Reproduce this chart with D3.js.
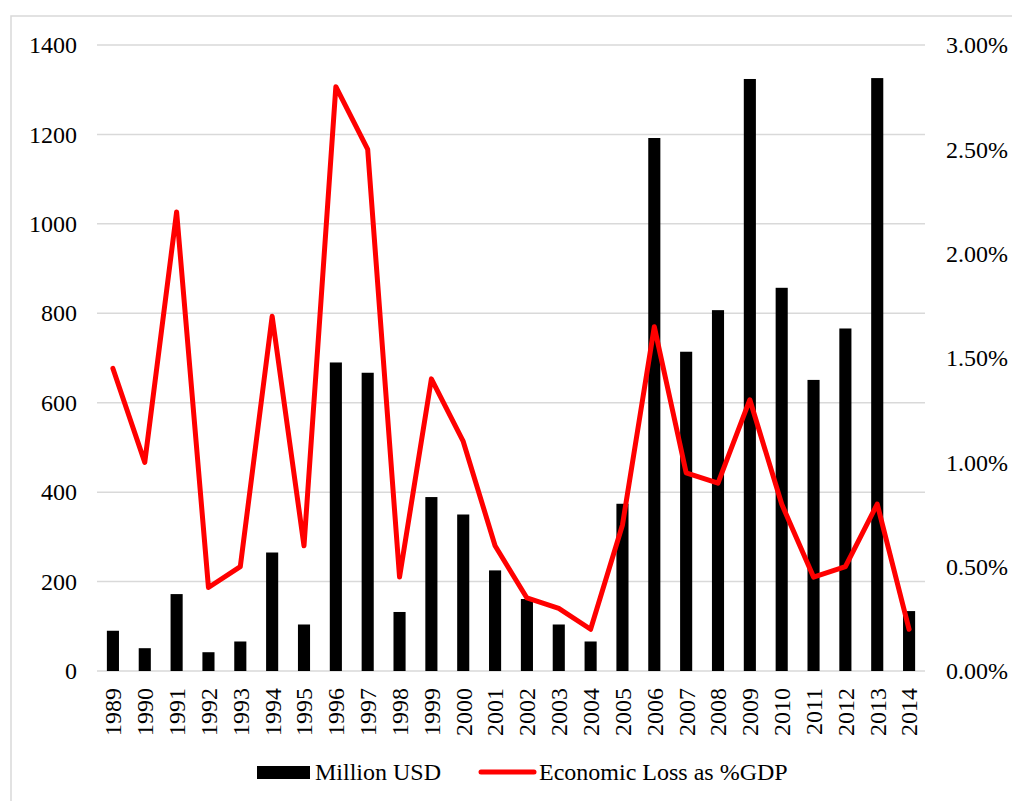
<!DOCTYPE html>
<html>
<head>
<meta charset="utf-8">
<script src="https://cdn.jsdelivr.net/npm/d3@7"></script>
<style>
  body { margin: 0; background: #fff; }
</style>
</head>
<body>
<div id="chart"></div>
<script>
// data
var years = ["1989","1990","1991","1992","1993","1994","1995","1996","1997","1998","1999","2000","2001",
             "2002","2003","2004","2005","2006","2007","2008","2009","2010","2011","2012","2013","2014"];
var millionUSD = [90, 51, 172, 42, 66, 265, 104, 690, 667, 132, 389, 350, 225,
                  161, 104, 66, 374, 1192, 714, 807, 1324, 857, 651, 766, 1326, 134];
var lossPctGDP = [1.45, 1.00, 2.20, 0.40, 0.50, 1.70, 0.60, 2.80, 2.50, 0.45, 1.40, 1.10, 0.60,
                  0.35, 0.30, 0.20, 0.70, 1.65, 0.95, 0.90, 1.30, 0.80, 0.45, 0.50, 0.80, 0.20];
var leftTicks = [0, 200, 400, 600, 800, 1000, 1200, 1400];
var rightTicks = [0, 0.5, 1.0, 1.5, 2.0, 2.5, 3.0];
var seriesNames = ["Million USD", "Economic Loss as %GDP"];

var svgWidth = 1012, svgHeight = 801;
var margin = { top: 45, bottom: 130, left: 97, right: 87 };
var width = svgWidth - margin.left - margin.right;
var height = svgHeight - margin.top - margin.bottom;
var fontSize = "24px";
var fontFamily = "'Liberation Serif', 'Times New Roman', serif";

var svg = d3.select("#chart").append("svg")
  .attr("width", svgWidth)
  .attr("height", svgHeight);

// outer frame (only top and left edges show)
svg.append("rect")
  .attr("x", 11).attr("y", 16)
  .attr("width", 1200).attr("height", 1000)
  .attr("fill", "none")
  .attr("stroke", "#d9d9d9")
  .attr("stroke-width", 1.5);

var chartGroup = svg.append("g")
  .attr("transform", `translate(${margin.left}, ${margin.top})`);

// scales
var xScale = d3.scaleBand()
  .domain(years)
  .range([0, width])
  .paddingInner(0.62)
  .paddingOuter(0.31);

var yLeft = d3.scaleLinear().domain([0, 1400]).range([height, 0]);
var yRight = d3.scaleLinear().domain([0, 3]).range([height, 0]);

// gridlines
chartGroup.append("g")
  .selectAll("line")
  .data(leftTicks)
  .enter()
  .append("line")
  .attr("x1", 0).attr("x2", width)
  .attr("y1", d => yLeft(d)).attr("y2", d => yLeft(d))
  .attr("stroke", "#d9d9d9")
  .attr("stroke-width", 1.5);

// left axis
var leftAxis = chartGroup.append("g")
  .call(d3.axisLeft(yLeft).tickValues(leftTicks).tickSize(0).tickPadding(20)
    .tickFormat(d3.format("d")));
leftAxis.select(".domain").remove();

// right axis
var rightAxis = chartGroup.append("g")
  .attr("transform", `translate(${width}, 0)`)
  .call(d3.axisRight(yRight).tickValues(rightTicks).tickSize(0).tickPadding(21)
    .tickFormat(d => d.toFixed(2) + "%"));
rightAxis.select(".domain").remove();

// bottom axis with rotated years
var bottomAxis = chartGroup.append("g")
  .attr("transform", `translate(0, ${height})`)
  .call(d3.axisBottom(xScale).tickSize(0).tickPadding(0));
bottomAxis.select(".domain").remove();
bottomAxis.selectAll("text")
  .attr("text-anchor", "end")
  .attr("transform", "translate(0, 17) rotate(-90)")
  .attr("x", 0)
  .attr("y", 0)
  .attr("dy", "0.35em");

[leftAxis, rightAxis, bottomAxis].forEach(function(ax) {
  ax.attr("font-family", fontFamily).attr("font-size", null);
  ax.selectAll("text").style("font-family", fontFamily).style("font-size", fontSize).attr("fill", "#000");
});

// bars
chartGroup.append("g")
  .selectAll("rect")
  .data(millionUSD)
  .enter()
  .append("rect")
  .attr("x", (d, i) => xScale(years[i]))
  .attr("y", d => yLeft(d))
  .attr("width", xScale.bandwidth())
  .attr("height", d => height - yLeft(d))
  .attr("fill", "#000");

// line
var line = d3.line()
  .x((d, i) => xScale(years[i]) + xScale.bandwidth() / 2)
  .y(d => yRight(d));

chartGroup.append("path")
  .datum(lossPctGDP)
  .attr("d", line)
  .attr("fill", "none")
  .attr("stroke", "#ff0000")
  .attr("stroke-width", 5)
  .attr("stroke-linejoin", "round")
  .attr("stroke-linecap", "round");

// legend
var legend = svg.append("g");
legend.append("rect")
  .attr("x", 257).attr("y", 766)
  .attr("width", 53).attr("height", 13)
  .attr("fill", "#000");
legend.append("text")
  .attr("x", 315).attr("y", 780)
  .style("font-family", fontFamily)
  .style("font-size", fontSize)
  .text(seriesNames[0]);
legend.append("line")
  .attr("x1", 481).attr("x2", 534)
  .attr("y1", 772).attr("y2", 772)
  .attr("stroke", "#ff0000")
  .attr("stroke-width", 5)
  .attr("stroke-linecap", "round");
legend.append("text")
  .attr("x", 539).attr("y", 780)
  .style("font-family", fontFamily)
  .style("font-size", fontSize)
  .text(seriesNames[1]);
</script>
</body>
</html>
